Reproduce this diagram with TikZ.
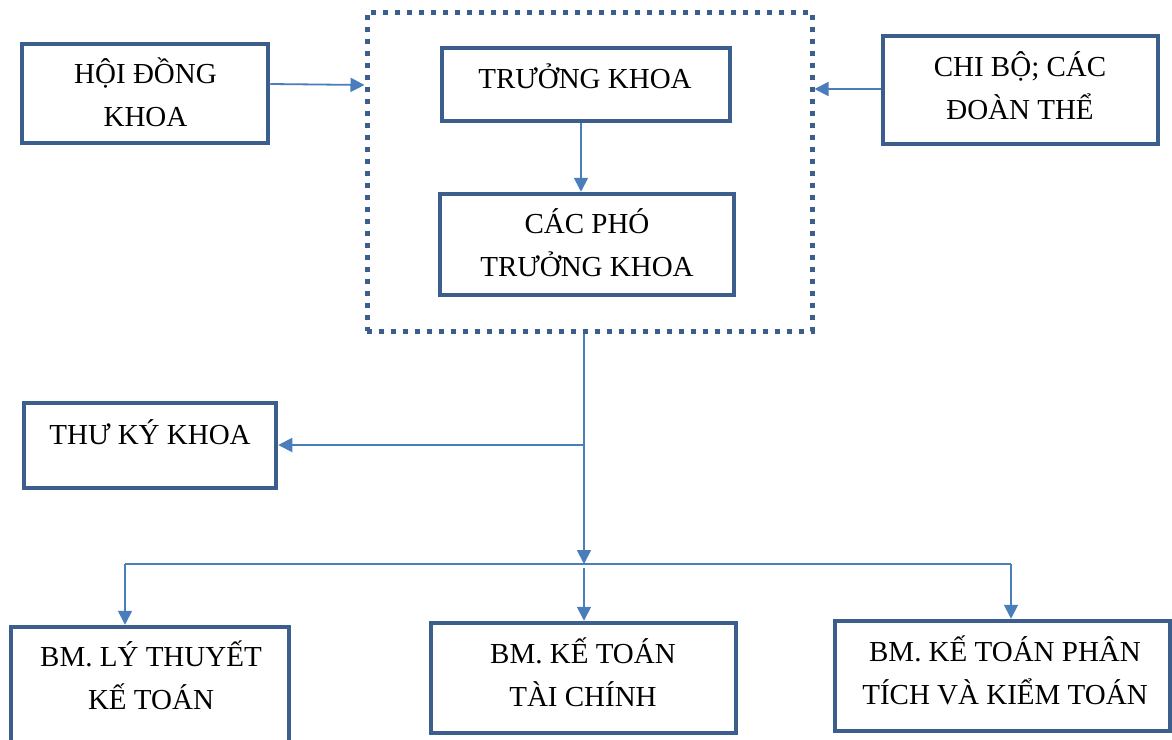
\documentclass[tikz,border=0pt]{standalone}
\usepackage{fontspec}
\setmainfont{Liberation Serif}
\usetikzlibrary{arrows.meta}
\definecolor{boxc}{RGB}{59,94,140}
\definecolor{arrc}{RGB}{74,126,187}
\newcommand\fsz{\fontsize{29}{43}\selectfont}
\begin{document}
\begin{tikzpicture}[x=1pt,y=-1pt,
  boxnode/.style={draw=boxc, line width=4.5pt, rectangle, inner sep=0pt},
  dotbox/.style={draw=boxc, line width=5pt, rectangle, inner sep=0pt, dash pattern=on 5pt off 7pt},
  txt/.style={inner sep=0pt, align=center, font=\fsz, text=black},
  conn/.style={draw=arrc, line width=1.8pt},
  arr/.style={conn, -{Triangle[length=14pt,width=14pt]}}]
\clip (0,0) rectangle (1172,739);
\fill[white] (0,0) rectangle (1172,739);
% boxes
\node[boxnode, minimum width=246pt, minimum height=99pt] (hd) at (145,93.5) {};
\node[dotbox, minimum width=445pt, minimum height=319pt] (dot) at (589.5,171.5) {};
\node[boxnode, minimum width=288pt, minimum height=73pt] (tk) at (586,84.5) {};
\node[boxnode, minimum width=294pt, minimum height=101pt] (ph) at (587,244.5) {};
\node[boxnode, minimum width=275pt, minimum height=108pt] (cb) at (1020.5,90) {};
\node[boxnode, minimum width=252pt, minimum height=85pt] (tky) at (150,445.5) {};
\node[boxnode, minimum width=278pt, minimum height=118pt] (lt) at (150,686) {};
\node[boxnode, minimum width=305pt, minimum height=110pt] (tc) at (583.5,678) {};
\node[boxnode, minimum width=335pt, minimum height=110pt] (pt) at (1002.5,676) {};
% texts
\node[txt] (hdt) at (145.5,96) {\strut HỘI ĐỒNG\\\strut KHOA};
\node[txt] (tkt) at (585,79.4) {\strut TRƯỞNG KHOA};
\node[txt] (pht) at (587,246) {\strut CÁC PHÓ\\\strut TRƯỞNG KHOA};
\node[txt] (cbt) at (1020,89) {\strut CHI BỘ; CÁC\\\strut ĐOÀN THỂ};
\node[txt] (tkyt) at (150,435.4) {\strut THƯ KÝ KHOA};
\node[txt] (ltt) at (151,679) {\strut BM. LÝ THUYẾT\\\strut KẾ TOÁN};
\node[txt] (tct) at (583,676) {\strut BM. KẾ TOÁN\\\strut TÀI CHÍNH};
\node[txt] (ptt) at (1005,674) {\strut BM. KẾ TOÁN PHÂN\\\strut TÍCH VÀ KIỂM TOÁN};
% junction coordinates
\coordinate (j1) at (584,445);
\coordinate (bus) at (584,564);
\coordinate (busL) at (125,564);
\coordinate (busR) at (1011,564);
% connectors
\draw[arr] (hd.east |- 0,84) -- (dot.west |- 0,85);
\draw[arr] (cb.west |- 0,89) -- (dot.east |- 0,89);
\draw[arr] (tk.south -| 581,0) -- (ph.north -| 581,0);
\draw[arr] (dot.south -| bus) -- (bus);
\draw[arr] (j1) -- (tky.east |- j1);
\draw[conn] (busL) -- (busR);
\draw[arr] (busL) -- (lt.north -| busL);
\draw[arr] ([yshift=-4pt]bus) -- (tc.north -| bus);
\draw[arr] (busR) -- (pt.north -| busR);
\end{tikzpicture}
\end{document}
